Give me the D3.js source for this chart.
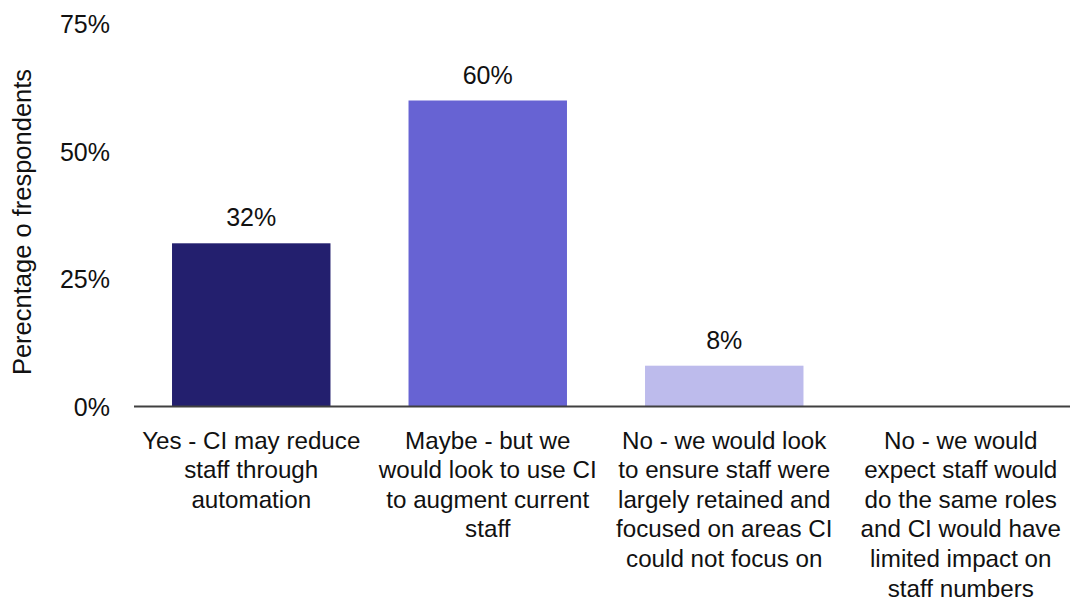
<!DOCTYPE html>
<html>
<head>
<meta charset="utf-8">
<script src="https://cdn.jsdelivr.net/npm/d3@7"></script>
<style>
  html, body { margin: 0; padding: 0; background: #ffffff; }
  svg { display: block; font-family: "Liberation Sans", Arial, sans-serif; }
</style>
</head>
<body>
<svg id="chart" width="1070" height="603"></svg>
<script>
// Survey answers (each split into the lines it is printed on)
const categories = [
  ["Yes - CI may reduce", "staff through", "automation"],
  ["Maybe - but we", "would look to use CI", "to augment current", "staff"],
  ["No - we would look", "to ensure staff were", "largely retained and", "focused on areas CI", "could not focus on"],
  ["No - we would", "expect staff would", "do the same roles", "and CI would have", "limited impact on", "staff numbers"]
];
const values = [32, 60, 8, 0];
const valueLabels = ["32%", "60%", "8%", null];
const barColors = ["#231F6E", "#6763D3", "#BDBBEC", "#BDBBEC"];
const yTicks = [0, 25, 50, 75];
const yTitle = "Perecntage o frespondents";

const svg = d3.select("#chart");
const keys = categories.map((c, i) => i);

const x = d3.scaleBand()
  .domain(keys)
  .range([133, 1079])
  .paddingInner(0.33)
  .paddingOuter(0.165);

const y = d3.scaleLinear()
  .domain([0, 75])
  .range([406.5, 24]);

// Y axis: labels only, no line or tick marks
const yAxis = svg.append("g")
  .attr("transform", "translate(110,0)")
  .call(d3.axisLeft(y).tickValues(yTicks).tickFormat(d => d + "%").tickSize(0).tickPadding(0));
yAxis.select(".domain").remove();
yAxis.selectAll("text")
  .attr("font-family", "Liberation Sans, Arial, sans-serif")
  .attr("font-size", 25)
  .attr("fill", "#111")
  .attr("dy", "0.35em");

// Y axis title
svg.append("text")
  .attr("transform", `translate(31,${222}) rotate(-90)`)
  .attr("text-anchor", "middle")
  .attr("font-size", 25.5)
  .attr("fill", "#111")
  .text(yTitle);

// Bars
svg.append("g").selectAll("rect")
  .data(keys.filter(i => values[i] > 0))
  .join("rect")
  .attr("x", i => x(i))
  .attr("width", x.bandwidth())
  .attr("y", i => y(values[i]))
  .attr("height", i => y(0) - y(values[i]))
  .attr("fill", i => barColors[i]);

// Value labels above bars
svg.append("g").selectAll("text")
  .data(keys.filter(i => valueLabels[i]))
  .join("text")
  .attr("x", i => x(i) + x.bandwidth() / 2)
  .attr("y", i => y(values[i]) - 17)
  .attr("text-anchor", "middle")
  .attr("font-size", 25)
  .attr("fill", "#111")
  .text(i => valueLabels[i]);

// Baseline
svg.append("line")
  .attr("x1", 134)
  .attr("x2", 1070)
  .attr("y1", y(0))
  .attr("y2", y(0))
  .attr("stroke", "#404040")
  .attr("stroke-width", 2);

// Category labels, wrapped
const catG = svg.append("g").selectAll("text")
  .data(keys)
  .join("text")
  .attr("text-anchor", "middle")
  .attr("font-size", 24.2)
  .attr("fill", "#111");
catG.each(function(i) {
  const t = d3.select(this);
  const cx = x(i) + x.bandwidth() / 2;
  categories[i].forEach((line, k) => {
    t.append("tspan")
      .attr("x", cx)
      .attr("y", 448.5 + k * 29.6)
      .text(line);
  });
});
</script>
</body>
</html>
